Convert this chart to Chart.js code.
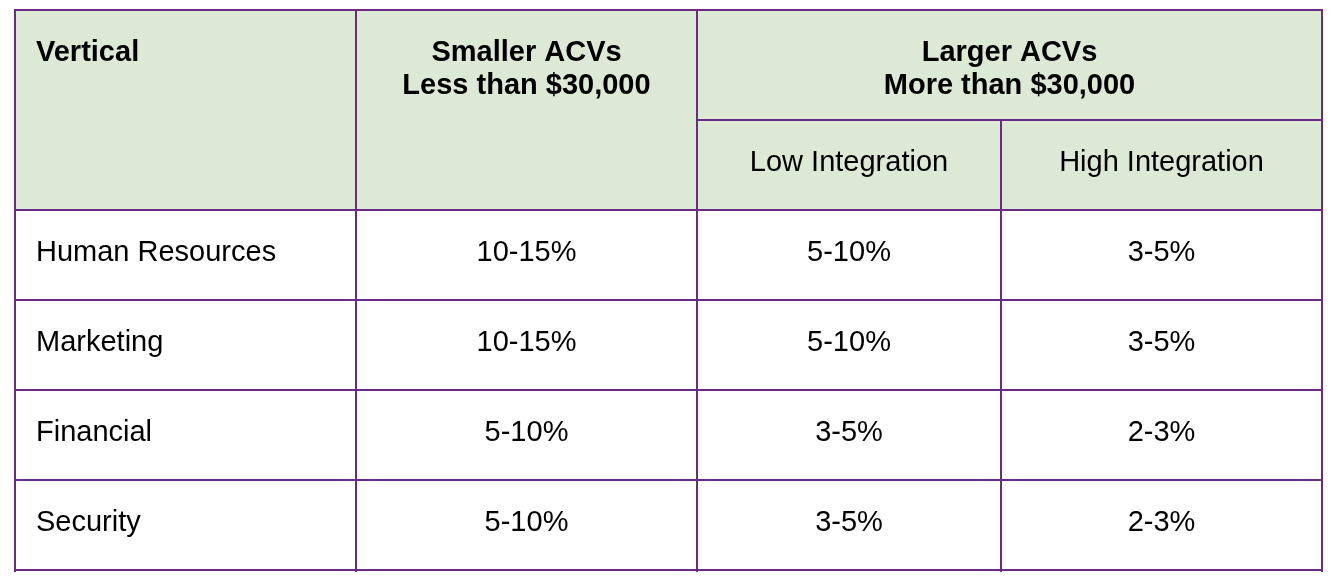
<!DOCTYPE html>
<html>
<head>
<meta charset="utf-8">
<script src="https://cdn.jsdelivr.net/npm/chart.js@4/dist/chart.umd.min.js"></script>
<style>
  html, body { margin: 0; padding: 0; background: #ffffff; }
  #wrap { width: 1332px; height: 582px; position: relative; }
</style>
</head>
<body>
<div id="wrap"><canvas id="c"></canvas></div>
<script>
// ---- Data ----
const headerVertical = 'Vertical';
const headerSmaller = ['Smaller ACVs', 'Less than $30,000'];
const headerLarger = ['Larger ACVs', 'More than $30,000'];
const subHeaders = ['Low Integration', 'High Integration'];
const verticals = ['Human Resources', 'Marketing', 'Financial', 'Security'];
const smallerACVs = ['10-15%', '10-15%', '5-10%', '5-10%'];
const lowIntegration = ['5-10%', '5-10%', '3-5%', '3-5%'];
const highIntegration = ['3-5%', '3-5%', '2-3%', '2-3%'];

// ---- Layout (scale units) ----
const colEdges = [15, 356, 697, 1001, 1322];
const rowEdges = [10, 120, 210, 300, 390, 480, 570];
const bodyRowTops = rowEdges.slice(2, 6);
const textPadLeft = 21;
const baselineOffset = 51;
const lineGap = 33;
const BORDER = '#6a2b86';
const HEADER_BG = '#dce9d5';
const FONT = '"Liberation Sans", Arial, Helvetica, sans-serif';

function mid(a, b) { return (a + b) / 2; }

// Build anchor points (one dataset per column) from the data arrays
const colVertical = verticals.map((t, i) => ({ x: colEdges[0] + textPadLeft, y: bodyRowTops[i] + baselineOffset, t }));
const colSmaller = smallerACVs.map((t, i) => ({ x: mid(colEdges[1], colEdges[2]), y: bodyRowTops[i] + baselineOffset, t }));
const colLow = lowIntegration.map((t, i) => ({ x: mid(colEdges[2], colEdges[3]), y: bodyRowTops[i] + baselineOffset, t }));
const colHigh = highIntegration.map((t, i) => ({ x: mid(colEdges[3], colEdges[4]), y: bodyRowTops[i] + baselineOffset, t }));
const headerPoints = [
  { x: colEdges[0] + textPadLeft, y: rowEdges[0] + baselineOffset, t: headerVertical, bold: true, align: 'left' },
  { x: mid(colEdges[1], colEdges[2]), y: rowEdges[0] + baselineOffset, t: headerSmaller[0], bold: true },
  { x: mid(colEdges[1], colEdges[2]), y: rowEdges[0] + baselineOffset + lineGap, t: headerSmaller[1], bold: true },
  { x: mid(colEdges[2], colEdges[4]), y: rowEdges[0] + baselineOffset, t: headerLarger[0], bold: true },
  { x: mid(colEdges[2], colEdges[4]), y: rowEdges[0] + baselineOffset + lineGap, t: headerLarger[1], bold: true },
  { x: mid(colEdges[2], colEdges[3]), y: rowEdges[1] + baselineOffset, t: subHeaders[0] },
  { x: mid(colEdges[3], colEdges[4]), y: rowEdges[1] + baselineOffset, t: subHeaders[1] }
];

const tablePlugin = {
  id: 'tablePlugin',
  beforeDatasetsDraw(chart) {
    const ctx = chart.ctx;
    const xs = chart.scales.x, ys = chart.scales.y;
    const px = v => xs.getPixelForValue(v);
    const py = v => ys.getPixelForValue(v);
    ctx.save();
    // header background
    ctx.fillStyle = HEADER_BG;
    ctx.fillRect(px(colEdges[0]), py(rowEdges[0]), px(colEdges[4]) - px(colEdges[0]), py(rowEdges[2]) - py(rowEdges[0]));
    // lines
    ctx.strokeStyle = BORDER;
    ctx.lineWidth = 2;
    const line = (x1, y1, x2, y2) => {
      ctx.beginPath();
      ctx.moveTo(px(x1), py(y1));
      ctx.lineTo(px(x2), py(y2));
      ctx.stroke();
    };
    const bottom = rowEdges[rowEdges.length - 1];
    // horizontal lines
    rowEdges.forEach((r, i) => {
      if (i === 1) line(colEdges[2] - 1, r, colEdges[4] + 1, r);
      else line(colEdges[0] - 1, r, colEdges[4] + 1, r);
    });
    // vertical lines
    colEdges.forEach((c, i) => {
      const top = i === 3 ? rowEdges[1] : rowEdges[0];
      line(c, top - 1, c, bottom + 2);
    });
    ctx.restore();
  },
  afterDatasetsDraw(chart) {
    const ctx = chart.ctx;
    ctx.save();
    ctx.fillStyle = '#000000';
    ctx.textBaseline = 'alphabetic';
    chart.data.datasets.forEach((ds, di) => {
      const meta = chart.getDatasetMeta(di);
      meta.data.forEach((el, i) => {
        const p = ds.data[i];
        ctx.font = (p.bold ? 'bold ' : '') + '29px ' + FONT;
        ctx.textAlign = p.align || ds.align || 'center';
        ctx.fillText(p.t, el.x, el.y);
      });
    });
    ctx.restore();
  }
};

const mk = (label, data, align) => ({
  label, data, align, pointRadius: 0, pointHoverRadius: 0, showLine: false,
  backgroundColor: 'rgba(0,0,0,0)', borderColor: 'rgba(0,0,0,0)'
});

new Chart(document.getElementById('c'), {
  type: 'scatter',
  data: {
    datasets: [
      mk('Header', headerPoints, 'center'),
      mk('Vertical', colVertical, 'left'),
      mk('Smaller ACVs', colSmaller, 'center'),
      mk('Low Integration', colLow, 'center'),
      mk('High Integration', colHigh, 'center')
    ]
  },
  options: {
    responsive: true,
    maintainAspectRatio: false,
    animation: false,
    events: [],
    layout: { padding: 0 },
    plugins: { legend: { display: false }, tooltip: { enabled: false } },
    scales: {
      x: { type: 'linear', display: false, min: 0, max: 1332 },
      y: { type: 'linear', display: false, min: 0, max: 582, reverse: true }
    }
  },
  plugins: [tablePlugin]
});
</script>
</body>
</html>
